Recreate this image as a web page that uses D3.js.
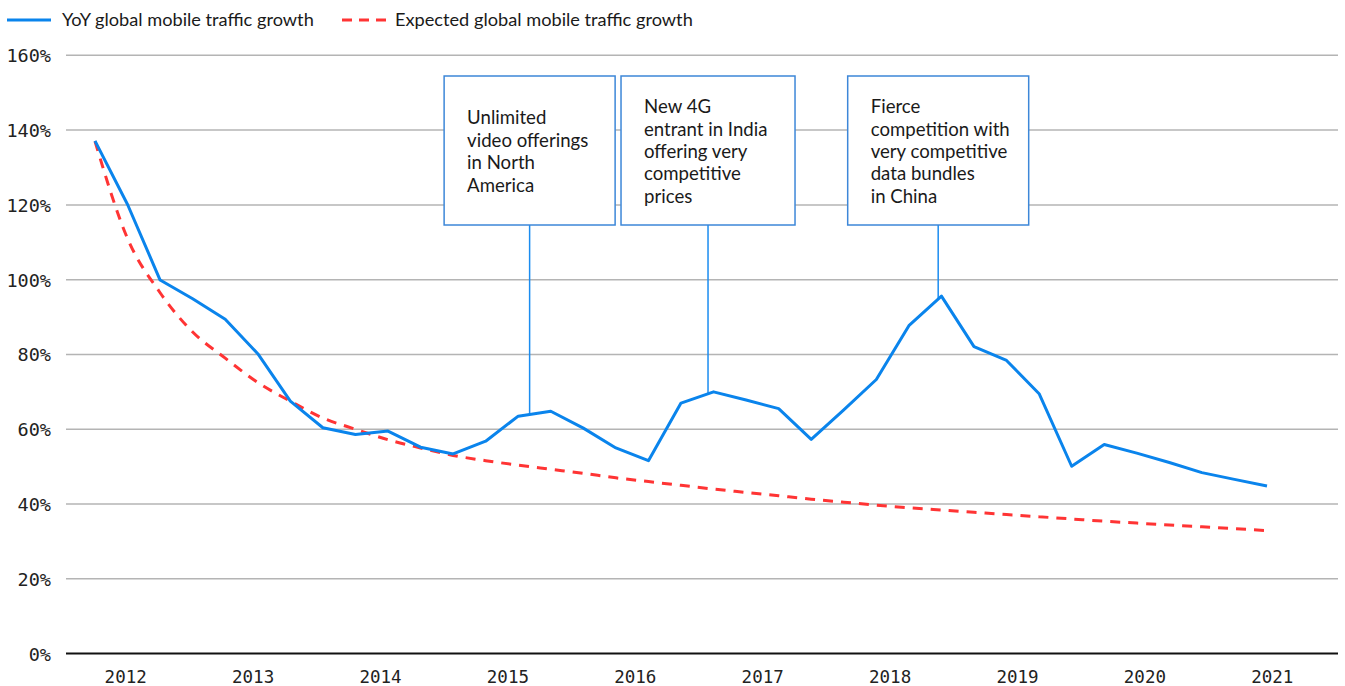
<!DOCTYPE html>
<html>
<head>
<meta charset="utf-8">
<script src="https://cdn.jsdelivr.net/npm/d3@7/dist/d3.min.js"></script>
<style>
  html, body { margin: 0; padding: 0; background: #fff; }
  svg { display: block; }
</style>
</head>
<body>
<svg id="chart" width="1345" height="686"></svg>
<script>
// ---- data ----
const years = ["2012","2013","2014","2015","2016","2017","2018","2019","2020","2021"];
const yTicks = [0, 20, 40, 60, 80, 100, 120, 140, 160];
// quarterly YoY growth (%), index 0..36
const yoyGrowth = [137.1, 120.1, 99.9, 94.9, 89.4, 80.2, 67.5, 60.4, 58.6, 59.5,
                   55.2, 53.4, 56.8, 63.5, 64.8, 60.3, 55.0, 51.6, 67.0, 70.0,
                   67.8, 65.5, 57.3, 65.2, 73.3, 87.7, 95.6, 82.1, 78.4, 69.5,
                   50.1, 55.9, 53.6, 51.1, 48.4, 46.6, 44.8];
const expectedGrowth = [137.0, 111.0, 96.5, 86.0, 79.0, 72.5, 67.5, 63.0, 60.0, 57.2,
                        55.0, 53.0, 51.6, 50.4, 49.3, 48.2, 47.0, 46.0, 45.0, 44.0,
                        43.1, 42.2, 41.3, 40.5, 39.7, 39.0, 38.4, 37.8, 37.2, 36.6,
                        36.0, 35.4, 34.9, 34.4, 33.9, 33.4, 32.9];
const legendLabels = ["YoY global mobile traffic growth", "Expected global mobile traffic growth"];
const annotationAt = [13.35, 18.83, 25.9];
const annotationText = [
  ["Unlimited", "video offerings", "in North", "America"],
  ["New 4G", "entrant in India", "offering very", "competitive", "prices"],
  ["Fierce", "competition with", "very competitive", "data bundles", "in China"]
];

// ---- layout ----
const svg = d3.select("#chart");
const plotLeft = 66, plotRight = 1338, plotTop = 55.3, plotBottom = 653.6;
const BLUE = "#0a84ec", RED = "#ff3434", BOX = "#3d87d8";
const textFont = "Lato, 'Noto Sans', sans-serif";
const monoFont = "'DejaVu Sans Mono', 'Liberation Mono', monospace";

const y = d3.scaleLinear().domain([0, 160]).range([plotBottom, plotTop]);
const x = d3.scaleLinear().domain([0, yoyGrowth.length - 1]).range([95, 1267]);
const xBand = d3.scaleBand().domain(years).range([62, 1336]);

// gridlines
const grid = svg.append("g");
grid.selectAll("line").data(yTicks.filter(d => d > 0)).enter().append("line")
  .attr("x1", plotLeft).attr("x2", plotRight)
  .attr("y1", d => y(d)).attr("y2", d => y(d))
  .attr("stroke", "#b4b4b4").attr("stroke-width", 1.5);

// y axis labels
const yAxis = d3.axisLeft(y).tickValues(yTicks).tickSize(0).tickPadding(0)
  .tickFormat(d => d + "%");
const gy = svg.append("g").attr("transform", `translate(51,0)`).call(yAxis);
gy.select(".domain").remove();
gy.selectAll("text").attr("font-family", monoFont).attr("font-size", 18.5)
  .attr("fill", "#222").attr("dy", "0.35em");

// x axis
svg.append("line").attr("x1", plotLeft).attr("x2", plotRight)
  .attr("y1", y(0)).attr("y2", y(0)).attr("stroke", "#111").attr("stroke-width", 2);
const xAxis = d3.axisBottom(xBand).tickSize(0).tickPadding(0);
const gx = svg.append("g").attr("transform", `translate(0,${y(0)})`).call(xAxis);
gx.select(".domain").remove();
gx.selectAll("text").attr("font-family", monoFont).attr("font-size", 17.5)
  .attr("fill", "#222").attr("dy", 0).attr("y", 29);

// expected line (dashed, smooth)
const lineExp = d3.line().x((d, i) => x(i)).y(d => y(d)).curve(d3.curveMonotoneX);
svg.append("path").datum(expectedGrowth).attr("d", lineExp)
  .attr("fill", "none").attr("stroke", RED).attr("stroke-width", 3)
  .attr("stroke-dasharray", "10,8");

// annotations
const interp = t => {
  const i = Math.floor(t), f = t - i;
  return yoyGrowth[i] + (yoyGrowth[Math.min(i + 1, yoyGrowth.length - 1)] - yoyGrowth[i]) * f;
};
const boxWidths = [171, 174, 181];
const boxTop = 76, boxBottom = 225, lineH = 22.4, midBase = 158;
annotationAt.forEach((t, k) => {
  const cx = x(t);
  const g = svg.append("g");
  g.append("line").attr("x1", cx).attr("x2", cx).attr("y1", boxBottom).attr("y2", y(interp(t)))
    .attr("stroke", "#1b8cf0").attr("stroke-width", 1.5);
  const bx = cx - boxWidths[k] / 2;
  g.append("rect").attr("x", bx).attr("y", boxTop).attr("width", boxWidths[k])
    .attr("height", boxBottom - boxTop).attr("fill", "#fff")
    .attr("stroke", BOX).attr("stroke-width", 1.5);
  const lines = annotationText[k];
  g.selectAll("text").data(lines).enter().append("text")
    .attr("x", bx + 23)
    .attr("y", (d, i) => midBase + (i - (lines.length - 1) / 2) * lineH)
    .attr("font-family", textFont).attr("font-size", 18.6).attr("fill", "#1a1a1a")
    .text(d => d);
});

// YoY line
const lineYoY = d3.line().x((d, i) => x(i)).y(d => y(d));
svg.append("path").datum(yoyGrowth).attr("d", lineYoY)
  .attr("fill", "none").attr("stroke", BLUE).attr("stroke-width", 3)
  .attr("stroke-linejoin", "round");

// legend
const leg = svg.append("g");
leg.append("line").attr("x1", 7).attr("x2", 51).attr("y1", 20).attr("y2", 20)
  .attr("stroke", BLUE).attr("stroke-width", 3);
leg.append("text").attr("x", 62).attr("y", 26).text(legendLabels[0])
  .attr("font-family", textFont).attr("font-size", 18.2).attr("fill", "#1a1a1a");
leg.append("line").attr("x1", 342).attr("x2", 386).attr("y1", 20).attr("y2", 20)
  .attr("stroke", RED).attr("stroke-width", 3).attr("stroke-dasharray", "10,7");
leg.append("text").attr("x", 395).attr("y", 26).text(legendLabels[1])
  .attr("font-family", textFont).attr("font-size", 18.2).attr("fill", "#1a1a1a");
</script>
</body>
</html>
